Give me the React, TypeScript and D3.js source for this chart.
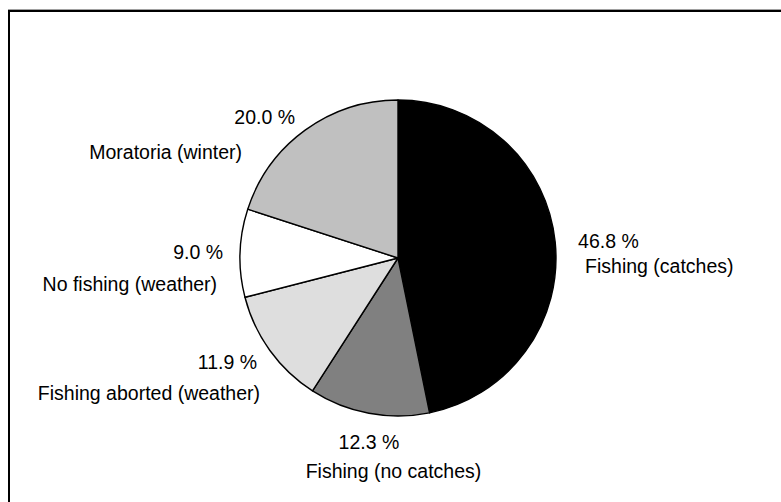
import React, { useRef, useEffect } from 'react';
import * as d3 from 'd3';

const categories = [
    'Fishing (catches)',
    'Fishing (no catches)',
    'Fishing aborted (weather)',
    'No fishing (weather)',
    'Moratoria (winter)',
];
const shares = [46.8, 12.3, 11.9, 9.0, 20.0];
const fills = ['#000000', '#808080', '#dedede', '#ffffff', '#c0c0c0'];

// label layout: offsets from the point on the label ring at each slice's mid angle
const pctAnchor = ['start', 'middle', 'end', 'end', 'end'];
const pctOffset = [[-1, 8], [4.5, 12], [6.6, 4.5], [7, 7], [4, 13]];
const nameAnchor = ['start', 'middle', 'end', 'end', 'end'];
const nameOffset = [[6, 33], [29, 41], [9.6, 35.5], [1, 39], [-49, 48]];

const App = () => {
    const chartRef = useRef(null);

    useEffect(() => {
        const width = 781;
        const height = 502;
        const cx = 398;
        const cy = 258;
        const radius = 158;
        const labelRadius = 182;

        const svg = d3.select(chartRef.current)
            .attr('width', width)
            .attr('height', height);
        svg.selectAll('*').remove();

        // frame
        svg.append('line')
            .attr('x1', 8).attr('x2', width)
            .attr('y1', 9.5).attr('y2', 9.5)
            .attr('stroke', '#a0a0a0').attr('stroke-width', 1);
        svg.append('rect')
            .attr('x', 9).attr('y', 11)
            .attr('width', width + 20).attr('height', height + 20)
            .attr('fill', 'none')
            .attr('stroke', '#000').attr('stroke-width', 2);

        const g = svg.append('g')
            .attr('transform', `translate(${cx},${cy})`);

        const pie = d3.pie()
            .sort(null)
            .value((d) => d);

        const arcs = pie(shares);

        const arc = d3.arc()
            .innerRadius(0)
            .outerRadius(radius);

        const labelArc = d3.arc()
            .innerRadius(labelRadius)
            .outerRadius(labelRadius);

        g.selectAll('path')
            .data(arcs)
            .enter().append('path')
            .attr('d', arc)
            .attr('fill', (d, i) => fills[i])
            .attr('stroke', '#000')
            .attr('stroke-width', 1.4)
            .attr('stroke-linejoin', 'round');

        const labels = g.append('g')
            .attr('font-family', 'Liberation Sans, Arial, sans-serif')
            .attr('font-size', 19.5)
            .attr('fill', '#000');

        arcs.forEach((d, i) => {
            const [x, y] = labelArc.centroid(d);
            labels.append('text')
                .attr('x', x + pctOffset[i][0])
                .attr('y', y + pctOffset[i][1])
                .attr('text-anchor', pctAnchor[i])
                .text(`${shares[i].toFixed(1)} %`);
            labels.append('text')
                .attr('x', x + nameOffset[i][0])
                .attr('y', y + nameOffset[i][1])
                .attr('text-anchor', nameAnchor[i])
                .text(categories[i]);
        });
    }, []);

    return (
        <svg
            ref={chartRef}
            style={{ position: 'absolute', left: 0, top: 0, background: '#fff' }}
        ></svg>
    );
};

export default App;
